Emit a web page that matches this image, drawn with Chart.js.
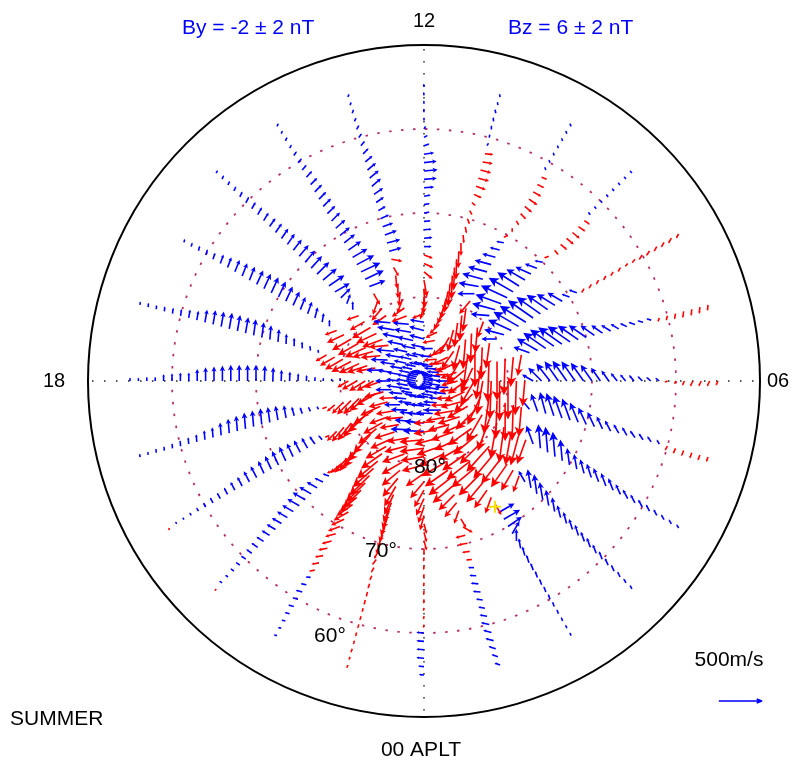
<!DOCTYPE html>
<html>
<head>
<meta charset="utf-8">
<script src="https://cdn.jsdelivr.net/npm/chart.js@4.4.1/dist/chart.umd.min.js"></script>
<style>
  html, body { margin: 0; padding: 0; background: #fff; }
</style>
</head>
<body>
<canvas id="myChart" width="794" height="761"></canvas>
<script>
  // grid of the vector map: one spoke per magnetic local time hour, one point per degree
  var mltHours = [0, 1, 2, 3, 4, 5, 6, 7, 8, 9, 10, 11, 12, 13, 14, 15, 16, 17, 18, 19, 20, 21, 22, 23];
  var latitudes = [55, 56, 57, 58, 59, 60, 61, 62, 63, 64, 65, 66, 67, 68, 69, 70, 71, 72,
                   73, 74, 75, 76, 77, 78, 79, 80, 81, 82, 83, 84, 85, 86, 87, 88, 89];
  var latCircles = [60, 70, 80];
  var hourLabels = ["12", "18", "06", "00 APLT"];
  var imfLabels = ["By = -2 \u00b1 2 nT", "Bz = 6 \u00b1 2 nT"];
  var seasonLabel = "SUMMER";
  var refSpeed = 500;           // m/s, length of the key arrow
  var stationLat = 72.8, stationMlt = 1.96;

  // flow direction in the plot frame (0 = toward 06, 90 = toward 12, 180 = toward 18, 270 = toward 00)
  // one row per MLT hour, one value per latitude 55..89
  var flowDir = [
    [175,175,175,175,175,175,260,260,260,265,265,265,265,265,265,270,285,285,285,255,250,245,240,230,215,195,190,188,185,178,175,175,172,170,168],
    [160,160,162,165,165,168,170,170,172,175,175,178,180,185,188,190,195,330,300,250,230,225,220,218,215,210,205,200,195,190,185,178,172,170,168],
    [110,110,110,110,110,110,110,110,110,110,108,105,100,90,60,35,30,30,300,250,235,230,225,220,218,215,210,205,200,195,190,180,175,170,168],
    [118,118,115,115,115,112,112,110,110,108,108,105,105,100,100,100,98,100,120,250,240,235,232,230,228,225,220,215,205,198,190,182,175,170,168],
    [120,120,120,118,118,118,118,118,115,112,110,110,108,105,100,98,95,95,95,95,110,250,255,260,262,260,250,240,225,210,195,182,175,170,168],
    [250,250,250,248,245,240,120,125,125,125,120,120,118,115,115,115,112,110,110,108,105,110,130,265,268,270,268,262,245,225,205,185,178,172,168],
    [245,245,245,245,245,240,200,140,140,135,130,130,128,125,125,125,125,125,125,125,128,135,150,265,268,270,270,268,260,240,215,195,180,172,168],
    [265,265,265,262,260,255,250,165,165,160,155,150,148,145,145,145,145,145,145,145,145,150,160,260,265,268,270,268,262,245,220,200,182,172,168],
    [240,240,240,240,238,235,232,230,240,240,240,240,240,240,160,160,150,148,145,145,145,148,150,155,165,180,262,268,270,262,240,205,185,175,168],
    [130,130,130,130,130,130,130,130,325,325,320,320,320,310,200,170,160,155,150,148,150,155,160,165,175,250,265,268,265,255,235,205,185,175,168],
    [110,110,110,110,110,110,110,340,335,330,325,320,315,300,270,200,170,165,165,165,165,165,170,180,230,262,265,262,255,240,220,200,185,175,168],
    [100,100,100,95,90,80,60,355,350,345,345,340,335,320,300,290,280,275,270,268,268,268,268,265,260,255,250,240,225,205,190,180,175,172,168],
    [95,95,95,95,90,60,30,20,8,6,5,5,5,10,10,10,5,5,5,0,340,335,320,280,272,268,255,200,170,165,165,168,168,168,168],
    [70,70,70,65,60,55,50,45,40,40,40,40,35,35,30,25,20,20,15,15,350,300,275,270,265,250,215,200,175,170,168,168,168,168,168],
    [65,65,65,60,55,50,50,48,45,45,45,45,45,45,42,40,38,35,30,28,25,25,20,300,250,230,215,175,170,168,168,168,168,168,168],
    [60,65,65,65,65,62,60,60,58,55,55,55,55,52,50,50,48,45,40,35,30,45,70,90,200,210,210,205,200,185,175,170,168,168,168],
    [null,null,75,75,75,72,72,70,70,68,68,68,65,65,65,65,65,65,68,70,75,80,90,200,205,210,210,205,195,185,178,172,170,168,168],
    [85,85,85,85,82,82,80,80,80,80,80,80,80,80,82,82,85,85,88,90,92,95,100,210,210,210,208,205,198,190,180,172,170,168,168],
    [90,90,90,90,90,90,90,90,90,90,90,90,90,90,90,90,88,88,88,88,88,88,85,85,85,80,210,210,212,210,200,180,172,170,168],
    [95,95,95,95,95,95,95,95,95,95,95,95,95,95,95,95,98,100,100,105,110,115,120,200,220,225,225,225,220,210,195,180,172,170,168],
    [250,120,120,120,120,120,120,120,118,118,118,118,118,115,115,115,115,115,118,120,125,130,200,225,230,232,230,225,215,205,195,182,175,170,168],
    [240,145,145,145,145,145,145,145,148,148,150,150,150,150,150,150,150,150,155,160,200,220,230,235,235,232,228,220,210,200,190,180,175,170,168],
    [165,165,165,165,165,165,165,170,175,190,190,190,190,195,195,200,205,210,215,220,225,225,225,222,220,215,210,205,198,190,185,178,174,170,168],
    [250,250,250,255,255,255,255,255,255,255,250,245,240,235,240,245,248,250,250,250,248,245,240,230,220,210,200,195,190,178,175,175,172,170,168]
  ];

  // flow speed in m/s, same layout
  var flowSpeed = [
    [60,70,90,90,90,90,40,40,40,50,50,50,50,50,50,70,120,120,120,180,200,220,230,250,260,270,280,290,290,250,230,200,160,140,120],
    [70,80,90,100,100,100,90,80,80,90,90,80,70,70,90,110,120,130,120,160,220,260,300,320,330,330,320,310,300,280,250,200,160,140,120],
    [40,45,50,55,60,65,70,75,80,90,100,110,120,140,170,200,220,200,140,200,260,300,330,350,350,340,320,300,280,260,230,200,160,140,120],
    [50,60,70,80,90,100,110,120,120,130,130,140,150,170,190,210,230,220,150,200,280,330,380,400,400,390,370,340,300,270,240,200,160,140,120],
    [50,60,70,80,90,100,110,120,130,150,160,170,170,170,180,200,250,290,300,280,230,300,360,400,420,420,400,370,320,280,240,200,160,140,120],
    [60,70,70,70,70,60,60,80,90,100,110,120,140,160,190,220,250,270,280,280,260,220,150,350,420,450,450,420,370,310,260,200,160,140,120],
    [60,70,70,70,60,40,40,60,70,80,90,100,120,150,190,230,260,280,290,280,260,220,150,300,400,450,470,450,400,330,260,200,160,140,120],
    [70,80,80,80,70,60,50,60,70,80,90,110,130,160,200,250,290,320,340,340,320,280,200,250,350,420,460,450,400,330,260,200,160,140,120],
    [60,70,70,70,70,70,60,50,60,60,60,60,60,60,100,100,200,250,300,340,360,360,340,300,240,180,300,380,420,380,320,220,160,140,120],
    [40,40,40,40,40,40,40,40,80,100,110,110,100,70,60,100,150,200,250,300,330,340,320,280,220,200,300,350,350,300,250,200,160,140,120],
    [40,40,40,40,40,40,40,70,90,110,120,110,90,60,50,60,90,120,160,200,230,250,240,200,200,280,300,290,260,230,200,170,150,130,120],
    [40,40,50,50,50,40,40,100,120,130,130,120,100,60,60,70,80,100,150,200,240,270,280,270,250,230,200,180,160,150,150,140,130,120,120],
    [40,40,40,40,40,40,50,70,120,150,160,150,120,80,70,70,80,90,100,90,110,120,130,200,230,200,170,150,170,180,180,160,150,130,120],
    [40,40,50,50,60,60,70,90,110,130,140,140,130,110,100,110,130,150,160,150,130,120,150,170,170,170,180,190,190,200,190,170,150,130,120],
    [40,40,50,50,60,70,80,100,110,120,120,130,130,140,150,150,160,180,200,230,250,240,200,150,170,190,200,200,210,200,190,170,150,130,120],
    [40,50,50,60,70,80,90,100,110,120,130,140,150,160,170,180,190,200,210,220,200,160,120,100,150,200,250,260,250,230,220,180,150,130,120],
    [null,null,40,50,60,70,80,110,130,150,160,170,180,190,200,200,190,180,160,150,130,110,80,150,220,260,280,270,250,230,200,180,150,130,120],
    [40,50,50,60,70,80,100,110,150,170,180,190,190,190,190,180,170,150,120,100,80,60,40,150,200,240,260,260,250,230,200,170,150,130,120],
    [40,40,50,50,80,90,100,100,140,160,170,180,190,190,190,190,180,160,130,110,90,70,50,40,30,30,150,200,220,230,220,180,150,130,120],
    [40,40,50,50,60,70,80,90,110,120,150,170,180,190,190,190,180,170,150,110,80,60,40,60,120,180,230,260,270,260,230,190,160,140,120],
    [30,30,30,40,50,60,70,80,90,110,120,140,150,160,170,180,180,170,160,140,110,70,60,160,220,260,280,290,280,260,230,190,160,140,120],
    [30,40,40,50,60,70,80,90,100,110,120,130,140,150,160,170,160,140,110,80,100,160,220,270,300,310,300,280,260,240,220,190,160,140,120],
    [40,40,50,60,70,70,80,70,60,70,90,100,110,120,130,150,170,200,230,260,300,320,330,330,320,300,280,260,250,230,210,190,160,140,120],
    [40,40,50,50,50,50,50,50,60,60,60,60,70,80,100,130,160,190,210,230,250,260,270,280,280,280,280,270,260,240,220,190,160,140,120]
  ];

  var blue = "#0000ff";
  var red = "#ff0000";
  var fontFam = 'Helvetica, "Liberation Sans", Arial, sans-serif';
  var keyDeg = 5.1;   // degrees of colatitude drawn for refSpeed

  // lat / MLT to the chart's x-y plane (degrees of colatitude, 12 up, 06 right)
  var toXY = function(lat, mlt) {
    var c = 90 - lat;
    var p = mlt * 15 * Math.PI / 180;
    return { x: c * Math.sin(p), y: -c * Math.cos(p) };
  };

  var drawArrow = function(ctx, x0, y0, x1, y1, color) {
    var dx = x1 - x0, dy = y1 - y0;
    var len = Math.sqrt(dx * dx + dy * dy);
    if (len < 0.5) return;
    var ux = dx / len, uy = dy / len;
    var hl = Math.min(len * 0.36, 10);
    var hw = hl * 0.5;
    ctx.strokeStyle = color;
    ctx.fillStyle = color;
    ctx.beginPath();
    ctx.moveTo(x0, y0);
    ctx.lineTo(x1 - ux * hl * 0.6, y1 - uy * hl * 0.6);
    ctx.stroke();
    ctx.beginPath();
    ctx.moveTo(x1, y1);
    ctx.lineTo(x1 - ux * hl - uy * hw, y1 - uy * hl + ux * hw);
    ctx.lineTo(x1 - ux * hl * 0.75, y1 - uy * hl * 0.75);
    ctx.lineTo(x1 - ux * hl + uy * hw, y1 - uy * hl - ux * hw);
    ctx.closePath();
    ctx.fill();
  };

  var polarPlugin = {
    id: 'polarMap',
    beforeDatasetsDraw: function(chart) {
      var ctx = chart.ctx;
      var sx = chart.scales.x, sy = chart.scales.y;
      var cx = sx.getPixelForValue(0), cy = sy.getPixelForValue(0);
      var ppd = sx.getPixelForValue(1) - cx;
      var R = 40 * ppd;
      ctx.save();

      // outer boundary
      ctx.setLineDash([]);
      ctx.lineWidth = 2;
      ctx.strokeStyle = "#000";
      ctx.beginPath();
      ctx.arc(cx, cy, R, 0, 2 * Math.PI);
      ctx.stroke();

      // latitude circles
      ctx.lineWidth = 1.8;
      ctx.strokeStyle = "#b8306a";
      ctx.setLineDash([2.5, 9.5]);
      latCircles.forEach(function(l) {
        ctx.beginPath();
        ctx.arc(cx, cy, (90 - l) * ppd, 0, 2 * Math.PI);
        ctx.stroke();
      });

      // noon-midnight and dawn-dusk axes
      ctx.strokeStyle = "#222";
      ctx.lineWidth = 1.4;
      ctx.setLineDash([1.5, 10.5]);
      ctx.beginPath();
      ctx.moveTo(cx, cy - R + 4); ctx.lineTo(cx, cy + R - 4);
      ctx.moveTo(cx - R + 4, cy); ctx.lineTo(cx + R - 4, cy);
      ctx.stroke();
      ctx.setLineDash([]);

      // flow vectors
      ctx.lineWidth = 1.6;
      ctx.lineCap = "butt";
      ctx.lineJoin = "round";
      for (var h = 0; h < mltHours.length; h++) {
        for (var i = 0; i < latitudes.length; i++) {
          var s = flowSpeed[h][i], d = flowDir[h][i];
          if (s === null || d === null) continue;
          var p = toXY(latitudes[i], mltHours[h]);
          var a = d * Math.PI / 180;
          var L = s / refSpeed * keyDeg;
          var col = Math.sin(a) >= -1e-9 ? blue : red;
          drawArrow(ctx,
            sx.getPixelForValue(p.x), sy.getPixelForValue(p.y),
            sx.getPixelForValue(p.x + L * Math.cos(a)), sy.getPixelForValue(p.y + L * Math.sin(a)),
            col);
        }
      }

      // key arrow
      ctx.lineWidth = 1.5;
      var kx = 35.1, ky = -38.1;
      var kx0 = sx.getPixelForValue(kx), ky0 = sy.getPixelForValue(ky);
      var kx1 = sx.getPixelForValue(kx + keyDeg);
      ctx.strokeStyle = blue;
      ctx.beginPath();
      ctx.moveTo(kx0, ky0); ctx.lineTo(kx1, ky0);
      ctx.moveTo(kx1 - 5, ky0 - 2); ctx.lineTo(kx1, ky0); ctx.lineTo(kx1 - 5, ky0 + 2);
      ctx.stroke();
      ctx.restore();
    },
    afterDraw: function(chart) {
      var ctx = chart.ctx;
      var sx = chart.scales.x, sy = chart.scales.y;
      var cx = sx.getPixelForValue(0), cy = sy.getPixelForValue(0);
      var ppd = sx.getPixelForValue(1) - cx;
      var R = 40 * ppd;
      ctx.save();
      ctx.textBaseline = "middle";
      ctx.fillStyle = "#000";
      ctx.font = "20px " + fontFam;
      ctx.textAlign = "center";
      ctx.fillText(hourLabels[0], cx, cy - R - 24);
      ctx.fillText(hourLabels[1], cx - R - 34, cy);
      ctx.fillText(hourLabels[2], cx + R + 18, cy);
      ctx.font = "21px " + fontFam;
      ctx.fillText(hourLabels[3], cx - 3, cy + R + 33);

      ctx.textAlign = "left";
      ctx.fillStyle = blue;
      ctx.fillText(imfLabels[0], 182, 28);
      ctx.fillText(imfLabels[1], 508, 28);

      ctx.fillStyle = "#000";
      ctx.fillText(seasonLabel, 10, 719);
      ctx.textAlign = "center";
      ctx.fillText(refSpeed + "m/s", 729, 660);

      // latitude labels
      ctx.font = "21px " + fontFam;
      var labOff = [[6, 86], [-43, 170], [-94, 255]];
      latCircles.slice().reverse().forEach(function(l, k) {
        ctx.fillText(l + "\u00b0", cx + labOff[k][0], cy + labOff[k][1]);
      });
      ctx.restore();
    }
  };

  var st = toXY(stationLat, stationMlt);
  var context = document.getElementById("myChart").getContext("2d");
  var myChart = new Chart(context, {
    type: "scatter",
    data: {
      datasets: [{
        label: "station",
        data: [st],
        pointStyle: "cross",
        pointRadius: 6,
        borderWidth: 2,
        borderColor: "#f4e400",
        backgroundColor: "#f4e400"
      }]
    },
    options: {
      responsive: false,
      animation: false,
      devicePixelRatio: 1,
      events: [],
      layout: { padding: { left: 88, right: 34, top: 45, bottom: 44 } },
      scales: {
        x: { type: "linear", min: -40, max: 40, display: false },
        y: { type: "linear", min: -40, max: 40, display: false }
      },
      plugins: { legend: { display: false }, tooltip: { enabled: false } }
    },
    plugins: [polarPlugin]
  });
</script>
</body>
</html>
